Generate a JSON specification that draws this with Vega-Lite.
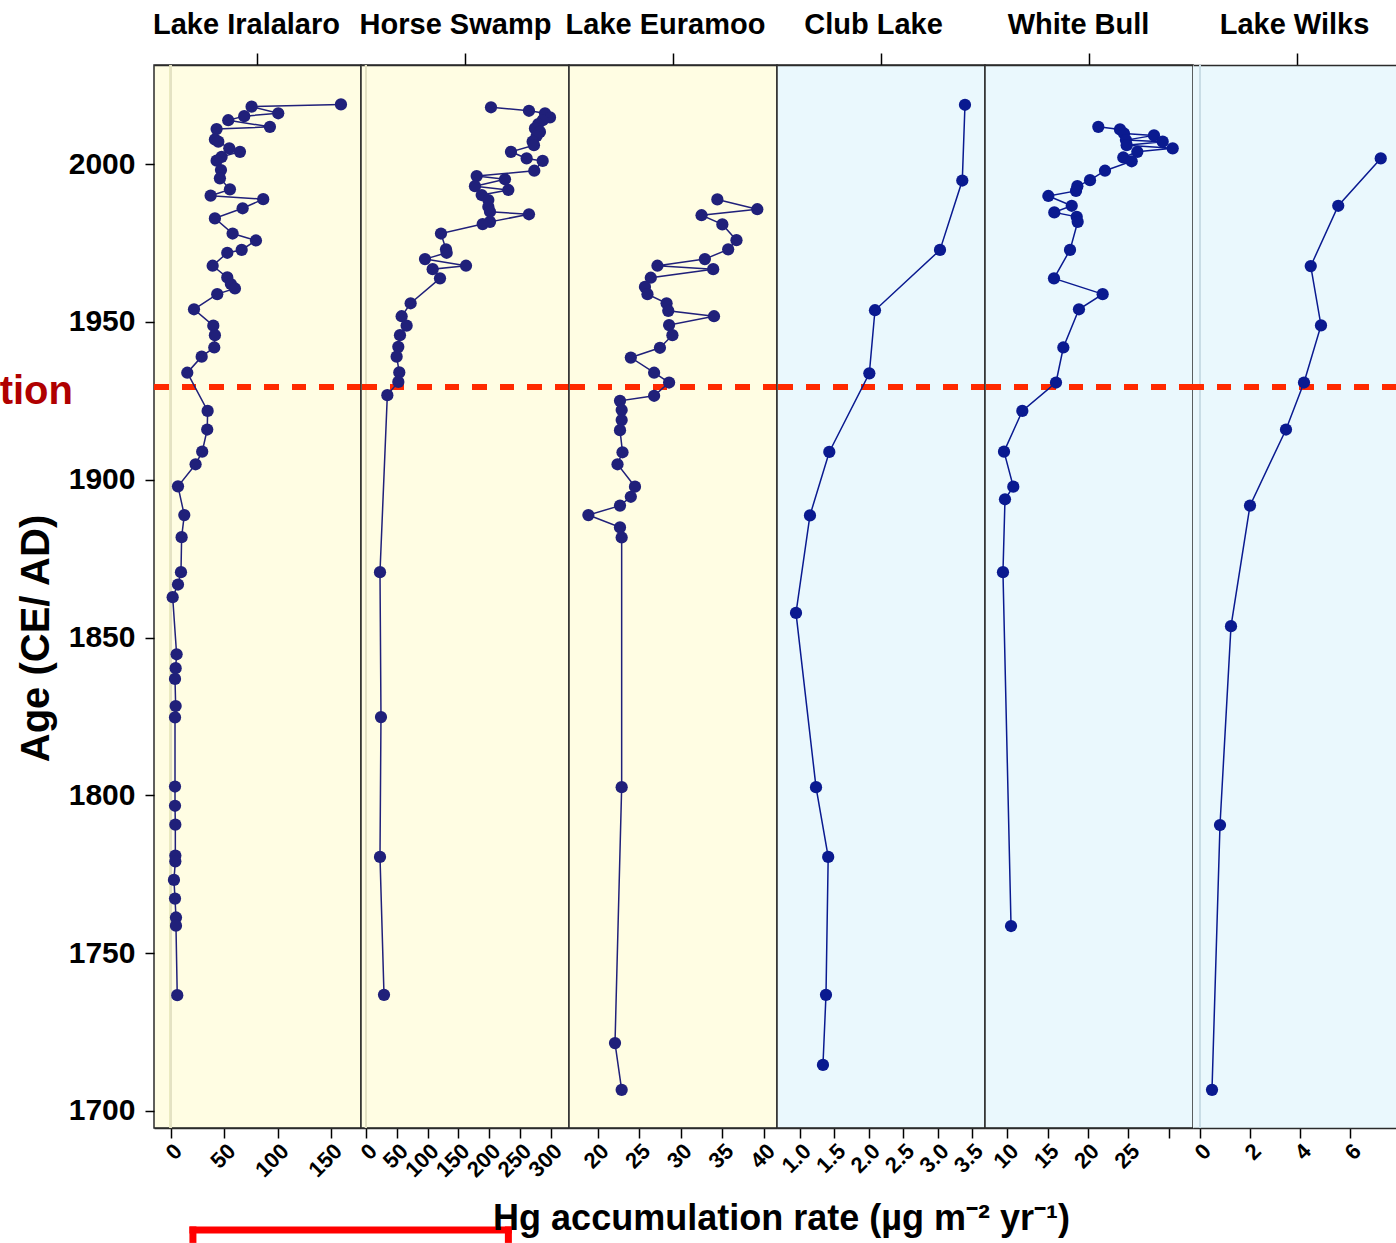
{
  "$schema": "https://vega.github.io/schema/vega-lite/v6.json",
  "background": "white",
  "padding": {"left": -2, "top": 9, "right": 0, "bottom": 0},
  "spacing": 0,
  "bounds": "flush",
  "config": {
    "font": "Liberation Sans",
    "axis": {"grid": false, "labelFont": "Liberation Sans", "labelFontWeight": "bold", "labelColor": "black", "tickColor": "black", "domainColor": "#2b2b2b", "titleFont": "Liberation Sans", "titleFontWeight": "bold", "titleColor": "black", "labelOverlap": false, "labelFlush": false}
  },
  "hconcat": [
    {
      "width": 207, "height": 1063,
      "view": {"fill": "#FFFDE3", "stroke": "#2b2b2b", "strokeWidth": 1.5},
      "data": {"values": [
        {"year": 2018.9, "hg": 159.4}, {"year": 2018.2, "hg": 75.6}, {"year": 2016.1, "hg": 100.6}, {"year": 2015.2, "hg": 68.7},
        {"year": 2013.9, "hg": 53.7}, {"year": 2011.8, "hg": 92.8}, {"year": 2011.1, "hg": 42.8}, {"year": 2007.8, "hg": 41.2},
        {"year": 2007.1, "hg": 44.4}, {"year": 2005.0, "hg": 54.7}, {"year": 2003.9, "hg": 64.7}, {"year": 2002.3, "hg": 47.5},
        {"year": 2001.1, "hg": 42.8}, {"year": 1998.1, "hg": 46.9}, {"year": 1995.5, "hg": 45.9}, {"year": 1992.0, "hg": 55.3},
        {"year": 1990.0, "hg": 37.2}, {"year": 1988.9, "hg": 86.5}, {"year": 1986.0, "hg": 67.2}, {"year": 1982.8, "hg": 41.2},
        {"year": 1978.0, "hg": 57.8}, {"year": 1975.8, "hg": 79.7}, {"year": 1972.8, "hg": 66.3}, {"year": 1971.9, "hg": 52.8},
        {"year": 1967.8, "hg": 39.1}, {"year": 1964.1, "hg": 52.8}, {"year": 1962.0, "hg": 56.2}, {"year": 1960.6, "hg": 60.0},
        {"year": 1958.8, "hg": 43.4}, {"year": 1954.0, "hg": 21.6}, {"year": 1948.8, "hg": 39.7}, {"year": 1945.8, "hg": 41.2},
        {"year": 1941.9, "hg": 40.6}, {"year": 1939.0, "hg": 28.8}, {"year": 1933.9, "hg": 15.3}, {"year": 1921.8, "hg": 34.4},
        {"year": 1915.9, "hg": 34.0}, {"year": 1908.9, "hg": 29.3}, {"year": 1904.9, "hg": 23.1}, {"year": 1897.9, "hg": 6.6},
        {"year": 1888.8, "hg": 12.5}, {"year": 1881.8, "hg": 10.0}, {"year": 1870.7, "hg": 9.4}, {"year": 1866.8, "hg": 6.6},
        {"year": 1862.8, "hg": 1.6}, {"year": 1844.7, "hg": 5.3}, {"year": 1840.3, "hg": 4.4}, {"year": 1836.9, "hg": 3.8},
        {"year": 1828.3, "hg": 4.4}, {"year": 1824.7, "hg": 3.8}, {"year": 1802.8, "hg": 3.8}, {"year": 1796.7, "hg": 3.8},
        {"year": 1790.7, "hg": 4.1}, {"year": 1780.9, "hg": 4.1}, {"year": 1779.1, "hg": 4.1}, {"year": 1773.2, "hg": 2.8},
        {"year": 1767.3, "hg": 3.8}, {"year": 1761.3, "hg": 4.7}, {"year": 1758.7, "hg": 4.7}, {"year": 1736.7, "hg": 5.9}
      ]},
      "layer": [
        {"mark": {"type": "rule", "color": "#E4E2C4", "strokeWidth": 2},
         "encoding": {"x": {"datum": 0, "type": "quantitative", "scale": {"domain": [-15.9, 178.2], "nice": false, "zero": false}, "axis": null}}},
        {"mark": {"type": "rule", "color": "#FF2A00", "strokeWidth": 5.5, "strokeDash": [14, 13.5]},
         "encoding": {"y": {"datum": 1929.3, "type": "quantitative", "scale": {"domain": [1694.6, 2031.4], "nice": false, "zero": false}, "axis": null}}},
        {"mark": {"type": "line", "color": "#20207a", "strokeWidth": 1.5},
         "encoding": {
           "x": {"field": "hg", "type": "quantitative", "scale": {"domain": [-15.9, 178.2], "nice": false, "zero": false},
                 "axis": {"orient": "top", "values": [81.1], "labels": false, "tickSize": 12, "tickWidth": 1.5, "domain": true, "domainWidth": 1.5, "title": "Lake Iralalaro", "titleFontSize": 29, "titlePadding": 13, "titleX": 92}},
           "y": {"field": "year", "type": "quantitative", "scale": {"domain": [1694.6, 2031.4], "nice": false, "zero": false},
                 "axis": {"orient": "left", "values": [1700, 1750, 1800, 1850, 1900, 1950, 2000], "format": "d", "labelFontSize": 30, "tickSize": 9, "tickWidth": 1.5, "labelPadding": 10, "domain": false, "title": "Age (CE/ AD)", "titleFontSize": 40, "titlePadding": 12, "titleY": 573}},
           "order": {"field": "year", "type": "quantitative"}
         }},
        {"mark": {"type": "point", "filled": true, "size": 150, "color": "#20207a", "opacity": 1},
         "encoding": {
           "x": {"field": "hg", "type": "quantitative", "scale": {"domain": [-15.9, 178.2], "nice": false, "zero": false},
                 "axis": {"orient": "bottom", "values": [0, 50, 100, 150], "format": "d", "labelAngle": -45, "labelAlign": "right", "labelBaseline": "top", "labelFontSize": 22, "labelPadding": 2, "tickSize": 10, "tickWidth": 1.5, "domain": true, "domainWidth": 1.5, "title": null}},
           "y": {"field": "year", "type": "quantitative", "axis": null}
         }},
        {"data": {"values": [{"label": "tion"}]},
         "mark": {"type": "text", "font": "Liberation Sans", "fontWeight": "bold", "fontSize": 40, "color": "#B00000", "align": "right", "baseline": "alphabetic"},
         "encoding": {"text": {"field": "label"}, "x": {"datum": -91.9, "type": "quantitative", "axis": null}, "y": {"datum": 1923.9, "type": "quantitative", "axis": null}}},
        {"data": {"values": [{}]},
         "mark": {"type": "rule", "color": "#FF0000", "strokeWidth": 7, "strokeCap": "square"},
         "encoding": {"x": {"datum": 20.6, "type": "quantitative", "axis": null}, "x2": {"datum": 316.4}, "y": {"datum": 1662.3, "type": "quantitative", "axis": null}}},
        {"data": {"values": [{}]},
         "mark": {"type": "rule", "color": "#FF0000", "strokeWidth": 7, "strokeCap": "square"},
         "encoding": {"x": {"datum": 20.6, "type": "quantitative", "axis": null}, "y": {"datum": 1662.3, "type": "quantitative", "axis": null}, "y2": {"datum": 1659.3}}},
        {"data": {"values": [{}]},
         "mark": {"type": "rule", "color": "#FF0000", "strokeWidth": 7, "strokeCap": "square"},
         "encoding": {"x": {"datum": 316.4, "type": "quantitative", "axis": null}, "y": {"datum": 1662.3, "type": "quantitative", "axis": null}, "y2": {"datum": 1659.3}}}
      ],
      "resolve": {"axis": {"x": "independent", "y": "independent"}}
    },
    {
      "width": 208, "height": 1063,
      "view": {"fill": "#FFFDE3", "stroke": "#2b2b2b", "strokeWidth": 1.5},
      "data": {"values": [
        {"year": 2018.0, "hg": 202.7}, {"year": 2016.9, "hg": 264.3}, {"year": 2016.1, "hg": 290.3}, {"year": 2014.8, "hg": 298.4},
        {"year": 2013.9, "hg": 286.5}, {"year": 2012.7, "hg": 279.4}, {"year": 2011.3, "hg": 274.0}, {"year": 2010.2, "hg": 282.1},
        {"year": 2008.9, "hg": 276.7}, {"year": 2007.1, "hg": 270.2}, {"year": 2006.0, "hg": 272.4}, {"year": 2003.9, "hg": 235.1},
        {"year": 2001.8, "hg": 260.5}, {"year": 2001.0, "hg": 286.5}, {"year": 1997.9, "hg": 272.9}, {"year": 1996.2, "hg": 179.5},
        {"year": 1995.2, "hg": 225.4}, {"year": 1993.0, "hg": 176.7}, {"year": 1991.8, "hg": 230.8}, {"year": 1990.2, "hg": 187.6},
        {"year": 1988.6, "hg": 198.4}, {"year": 1986.5, "hg": 198.4}, {"year": 1984.9, "hg": 201.1}, {"year": 1984.1, "hg": 264.3},
        {"year": 1981.7, "hg": 201.1}, {"year": 1981.0, "hg": 189.2}, {"year": 1978.0, "hg": 121.6}, {"year": 1973.0, "hg": 129.7},
        {"year": 1971.9, "hg": 130.8}, {"year": 1969.9, "hg": 95.7}, {"year": 1967.8, "hg": 162.2}, {"year": 1966.7, "hg": 108.1},
        {"year": 1963.8, "hg": 120.0}, {"year": 1955.9, "hg": 72.4}, {"year": 1951.8, "hg": 57.8}, {"year": 1948.8, "hg": 65.9},
        {"year": 1945.8, "hg": 55.1}, {"year": 1942.1, "hg": 52.4}, {"year": 1939.0, "hg": 49.7}, {"year": 1934.0, "hg": 54.0},
        {"year": 1931.0, "hg": 52.4}, {"year": 1926.8, "hg": 34.6}, {"year": 1870.7, "hg": 22.7}, {"year": 1824.8, "hg": 24.3},
        {"year": 1780.5, "hg": 22.7}, {"year": 1736.8, "hg": 29.2}
      ]},
      "layer": [
        {"mark": {"type": "rule", "color": "#E4E2C4", "strokeWidth": 2},
         "encoding": {"x": {"datum": 0, "type": "quantitative", "scale": {"domain": [-8.1, 329.2], "nice": false, "zero": false}, "axis": null}}},
        {"mark": {"type": "rule", "color": "#FF2A00", "strokeWidth": 5.5, "strokeDash": [14, 13.5]},
         "encoding": {"y": {"datum": 1929.3, "type": "quantitative", "scale": {"domain": [1694.6, 2031.4], "nice": false, "zero": false}, "axis": null}}},
        {"mark": {"type": "line", "color": "#20207a", "strokeWidth": 1.5},
         "encoding": {
           "x": {"field": "hg", "type": "quantitative", "scale": {"domain": [-8.1, 329.2], "nice": false, "zero": false},
                 "axis": {"orient": "top", "values": [160.5], "labels": false, "tickSize": 12, "tickWidth": 1.5, "domain": true, "domainWidth": 1.5, "title": "Horse Swamp", "titleFontSize": 29, "titlePadding": 13, "titleX": 94}},
           "y": {"field": "year", "type": "quantitative", "scale": {"domain": [1694.6, 2031.4], "nice": false, "zero": false}, "axis": null},
           "order": {"field": "year", "type": "quantitative"}
         }},
        {"mark": {"type": "point", "filled": true, "size": 150, "color": "#20207a", "opacity": 1},
         "encoding": {
           "x": {"field": "hg", "type": "quantitative", "scale": {"domain": [-8.1, 329.2], "nice": false, "zero": false},
                 "axis": {"orient": "bottom", "values": [0, 50, 100, 150, 200, 250, 300], "format": "d", "labelAngle": -45, "labelAlign": "right", "labelBaseline": "top", "labelFontSize": 22, "labelPadding": 2, "tickSize": 10, "tickWidth": 1.5, "domain": true, "domainWidth": 1.5, "title": null}},
           "y": {"field": "year", "type": "quantitative", "axis": null}
         }}
      ],
      "resolve": {"axis": {"x": "independent", "y": "independent"}}
    },
    {
      "width": 208, "height": 1063,
      "view": {"fill": "#FFFDE3", "stroke": "#2b2b2b", "strokeWidth": 1.5},
      "data": {"values": [
        {"year": 1988.8, "hg": 34.4}, {"year": 1985.7, "hg": 39.2}, {"year": 1983.8, "hg": 32.5}, {"year": 1980.9, "hg": 35.0},
        {"year": 1975.9, "hg": 36.7}, {"year": 1973.0, "hg": 35.7}, {"year": 1969.9, "hg": 32.9}, {"year": 1967.8, "hg": 27.2},
        {"year": 1966.7, "hg": 33.9}, {"year": 1964.0, "hg": 26.4}, {"year": 1961.1, "hg": 25.7}, {"year": 1958.8, "hg": 26.0},
        {"year": 1955.9, "hg": 28.3}, {"year": 1953.5, "hg": 28.5}, {"year": 1951.8, "hg": 34.0}, {"year": 1949.0, "hg": 28.6},
        {"year": 1945.8, "hg": 29.0}, {"year": 1941.8, "hg": 27.5}, {"year": 1938.7, "hg": 24.0}, {"year": 1933.9, "hg": 26.8},
        {"year": 1930.8, "hg": 28.6}, {"year": 1926.6, "hg": 26.8}, {"year": 1925.0, "hg": 22.7}, {"year": 1922.1, "hg": 22.9},
        {"year": 1918.9, "hg": 22.9}, {"year": 1915.7, "hg": 22.7}, {"year": 1908.7, "hg": 23.0}, {"year": 1904.9, "hg": 22.4},
        {"year": 1897.8, "hg": 24.5}, {"year": 1894.6, "hg": 24.0}, {"year": 1891.8, "hg": 22.7}, {"year": 1888.8, "hg": 18.9},
        {"year": 1884.9, "hg": 22.7}, {"year": 1881.7, "hg": 22.9}, {"year": 1802.6, "hg": 22.9}, {"year": 1721.5, "hg": 22.1},
        {"year": 1706.7, "hg": 22.9}
      ]},
      "layer": [
        {"mark": {"type": "rule", "color": "#FF2A00", "strokeWidth": 5.5, "strokeDash": [14, 13.5]},
         "encoding": {"y": {"datum": 1929.3, "type": "quantitative", "scale": {"domain": [1694.6, 2031.4], "nice": false, "zero": false}, "axis": null}}},
        {"mark": {"type": "line", "color": "#20207a", "strokeWidth": 1.5},
         "encoding": {
           "x": {"field": "hg", "type": "quantitative", "scale": {"domain": [16.57, 41.57], "nice": false, "zero": false},
                 "axis": {"orient": "top", "values": [29.07], "labels": false, "tickSize": 12, "tickWidth": 1.5, "domain": true, "domainWidth": 1.5, "title": "Lake Euramoo", "titleFontSize": 29, "titlePadding": 13, "titleX": 96}},
           "y": {"field": "year", "type": "quantitative", "scale": {"domain": [1694.6, 2031.4], "nice": false, "zero": false}, "axis": null},
           "order": {"field": "year", "type": "quantitative"}
         }},
        {"mark": {"type": "point", "filled": true, "size": 150, "color": "#20207a", "opacity": 1},
         "encoding": {
           "x": {"field": "hg", "type": "quantitative", "scale": {"domain": [16.57, 41.57], "nice": false, "zero": false},
                 "axis": {"orient": "bottom", "values": [20, 25, 30, 35, 40], "format": "d", "labelAngle": -45, "labelAlign": "right", "labelBaseline": "top", "labelFontSize": 22, "labelPadding": 2, "tickSize": 10, "tickWidth": 1.5, "domain": true, "domainWidth": 1.5, "title": null}},
           "y": {"field": "year", "type": "quantitative", "axis": null}
         }}
      ],
      "resolve": {"axis": {"x": "independent", "y": "independent"}}
    },
    {
      "width": 208, "height": 1063,
      "view": {"fill": "#EAF8FD", "stroke": "#2b2b2b", "strokeWidth": 1.5},
      "data": {"values": [
        {"year": 2018.8, "hg": 3.398}, {"year": 1994.8, "hg": 3.359}, {"year": 1972.8, "hg": 3.035}, {"year": 1953.7, "hg": 2.09},
        {"year": 1933.7, "hg": 2.008}, {"year": 1908.8, "hg": 1.426}, {"year": 1888.7, "hg": 1.145}, {"year": 1857.8, "hg": 0.942},
        {"year": 1802.6, "hg": 1.233}, {"year": 1780.5, "hg": 1.41}, {"year": 1736.8, "hg": 1.378}, {"year": 1714.6, "hg": 1.334}
      ]},
      "layer": [
        {"mark": {"type": "rule", "color": "#FF2A00", "strokeWidth": 5.5, "strokeDash": [14, 13.5]},
         "encoding": {"y": {"datum": 1929.3, "type": "quantitative", "scale": {"domain": [1694.6, 2031.4], "nice": false, "zero": false}, "axis": null}}},
        {"mark": {"type": "line", "color": "#0a1a90", "strokeWidth": 1.5},
         "encoding": {
           "x": {"field": "hg", "type": "quantitative", "scale": {"domain": [0.666, 3.689], "nice": false, "zero": false},
                 "axis": {"orient": "top", "values": [2.177], "labels": false, "tickSize": 12, "tickWidth": 1.5, "domain": true, "domainWidth": 1.5, "title": "Club Lake", "titleFontSize": 29, "titlePadding": 13, "titleX": 96}},
           "y": {"field": "year", "type": "quantitative", "scale": {"domain": [1694.6, 2031.4], "nice": false, "zero": false}, "axis": null},
           "order": {"field": "year", "type": "quantitative"}
         }},
        {"mark": {"type": "point", "filled": true, "size": 150, "color": "#0a1a90", "opacity": 1},
         "encoding": {
           "x": {"field": "hg", "type": "quantitative", "scale": {"domain": [0.666, 3.689], "nice": false, "zero": false},
                 "axis": {"orient": "bottom", "values": [1.0, 1.5, 2.0, 2.5, 3.0, 3.5], "format": ".1f", "labelAngle": -45, "labelAlign": "right", "labelBaseline": "top", "labelFontSize": 22, "labelPadding": 2, "tickSize": 10, "tickWidth": 1.5, "domain": true, "domainWidth": 1.5,
                          "title": "Hg accumulation rate (µg m⁻² yr⁻¹)", "titleFontSize": 36, "titleX": 4, "titleY": 101, "titleAlign": "center", "titleBaseline": "alphabetic"}},
           "y": {"field": "year", "type": "quantitative", "axis": null}
         }}
      ],
      "resolve": {"axis": {"x": "independent", "y": "independent"}}
    },
    {
      "width": 208, "height": 1063,
      "view": {"fill": "#EAF8FD", "stroke": "#2b2b2b", "strokeWidth": 1.5},
      "data": {"values": [
        {"year": 2011.8, "hg": 21.28}, {"year": 2011.0, "hg": 23.97}, {"year": 2009.7, "hg": 24.47}, {"year": 2009.1, "hg": 28.19},
        {"year": 2007.6, "hg": 24.71}, {"year": 2007.1, "hg": 29.27}, {"year": 2006.0, "hg": 24.8}, {"year": 2005.0, "hg": 30.51},
        {"year": 2003.9, "hg": 26.12}, {"year": 2002.1, "hg": 24.38}, {"year": 2000.9, "hg": 25.42}, {"year": 1997.9, "hg": 22.11},
        {"year": 1994.9, "hg": 20.25}, {"year": 1993.0, "hg": 18.68}, {"year": 1991.5, "hg": 18.51}, {"year": 1989.9, "hg": 15.08},
        {"year": 1986.8, "hg": 17.98}, {"year": 1984.7, "hg": 15.82}, {"year": 1983.3, "hg": 18.6}, {"year": 1981.7, "hg": 18.72},
        {"year": 1972.8, "hg": 17.77}, {"year": 1963.8, "hg": 15.78}, {"year": 1958.8, "hg": 21.82}, {"year": 1954.0, "hg": 18.88},
        {"year": 1941.9, "hg": 16.94}, {"year": 1930.8, "hg": 16.03}, {"year": 1921.8, "hg": 11.85}, {"year": 1908.9, "hg": 9.58},
        {"year": 1897.8, "hg": 10.73}, {"year": 1893.8, "hg": 9.7}, {"year": 1870.7, "hg": 9.45}, {"year": 1758.6, "hg": 10.45}
      ]},
      "layer": [
        {"mark": {"type": "rule", "color": "#FF2A00", "strokeWidth": 5.5, "strokeDash": [14, 13.5]},
         "encoding": {"y": {"datum": 1929.3, "type": "quantitative", "scale": {"domain": [1694.6, 2031.4], "nice": false, "zero": false}, "axis": null}}},
        {"mark": {"type": "line", "color": "#0a1a90", "strokeWidth": 1.5},
         "encoding": {
           "x": {"field": "hg", "type": "quantitative", "scale": {"domain": [7.22, 33.03], "nice": false, "zero": false},
                 "axis": {"orient": "top", "values": [20.12], "labels": false, "tickSize": 12, "tickWidth": 1.5, "domain": true, "domainWidth": 1.5, "title": "White Bull", "titleFontSize": 29, "titlePadding": 13, "titleX": 93}},
           "y": {"field": "year", "type": "quantitative", "scale": {"domain": [1694.6, 2031.4], "nice": false, "zero": false}, "axis": null},
           "order": {"field": "year", "type": "quantitative"}
         }},
        {"mark": {"type": "point", "filled": true, "size": 150, "color": "#0a1a90", "opacity": 1},
         "encoding": {
           "x": {"field": "hg", "type": "quantitative", "scale": {"domain": [7.22, 33.03], "nice": false, "zero": false},
                 "axis": {"orient": "bottom", "values": [10, 15, 20, 25, 30], "format": "d", "labelExpr": "datum.value == 30 ? '' : datum.label", "labelAngle": -45, "labelAlign": "right", "labelBaseline": "top", "labelFontSize": 22, "labelPadding": 2, "tickSize": 10, "tickWidth": 1.5, "domain": true, "domainWidth": 1.5, "title": null}},
           "y": {"field": "year", "type": "quantitative", "axis": null}
         }}
      ],
      "resolve": {"axis": {"x": "independent", "y": "independent"}}
    },
    {
      "width": 203, "height": 1063,
      "view": {"fill": "#EAF8FD", "stroke": null},
      "data": {"values": [
        {"year": 2001.8, "hg": 7.23}, {"year": 1986.8, "hg": 5.53}, {"year": 1967.7, "hg": 4.43}, {"year": 1948.9, "hg": 4.84},
        {"year": 1930.8, "hg": 4.16}, {"year": 1915.9, "hg": 3.44}, {"year": 1891.8, "hg": 2.0}, {"year": 1853.6, "hg": 1.24},
        {"year": 1790.6, "hg": 0.8}, {"year": 1706.7, "hg": 0.48}
      ]},
      "layer": [
        {"mark": {"type": "rule", "color": "#C9DDE6", "strokeWidth": 2},
         "encoding": {"x": {"datum": 0, "type": "quantitative", "scale": {"domain": [-0.28, 7.84], "nice": false, "zero": false}, "axis": null}}},
        {"mark": {"type": "rule", "color": "#FF2A00", "strokeWidth": 5.5, "strokeDash": [14, 13.5]},
         "encoding": {"y": {"datum": 1929.3, "type": "quantitative", "scale": {"domain": [1694.6, 2031.4], "nice": false, "zero": false}, "axis": null}}},
        {"mark": {"type": "line", "color": "#0a1a90", "strokeWidth": 1.5},
         "encoding": {
           "x": {"field": "hg", "type": "quantitative", "scale": {"domain": [-0.28, 7.84], "nice": false, "zero": false},
                 "axis": {"orient": "top", "values": [3.88], "labels": false, "tickSize": 12, "tickWidth": 1.5, "domain": true, "domainWidth": 1.5, "title": "Lake Wilks", "titleFontSize": 29, "titlePadding": 13, "titleX": 101}},
           "y": {"field": "year", "type": "quantitative", "scale": {"domain": [1694.6, 2031.4], "nice": false, "zero": false}, "axis": null},
           "order": {"field": "year", "type": "quantitative"}
         }},
        {"mark": {"type": "point", "filled": true, "size": 150, "color": "#0a1a90", "opacity": 1},
         "encoding": {
           "x": {"field": "hg", "type": "quantitative", "scale": {"domain": [-0.28, 7.84], "nice": false, "zero": false},
                 "axis": {"orient": "bottom", "values": [0, 2, 4, 6], "format": "d", "labelAngle": -45, "labelAlign": "right", "labelBaseline": "top", "labelFontSize": 22, "labelPadding": 2, "tickSize": 10, "tickWidth": 1.5, "domain": true, "domainWidth": 1.5, "title": null}},
           "y": {"field": "year", "type": "quantitative", "axis": null}
         }}
      ],
      "resolve": {"axis": {"x": "independent", "y": "independent"}}
    }
  ]
}
